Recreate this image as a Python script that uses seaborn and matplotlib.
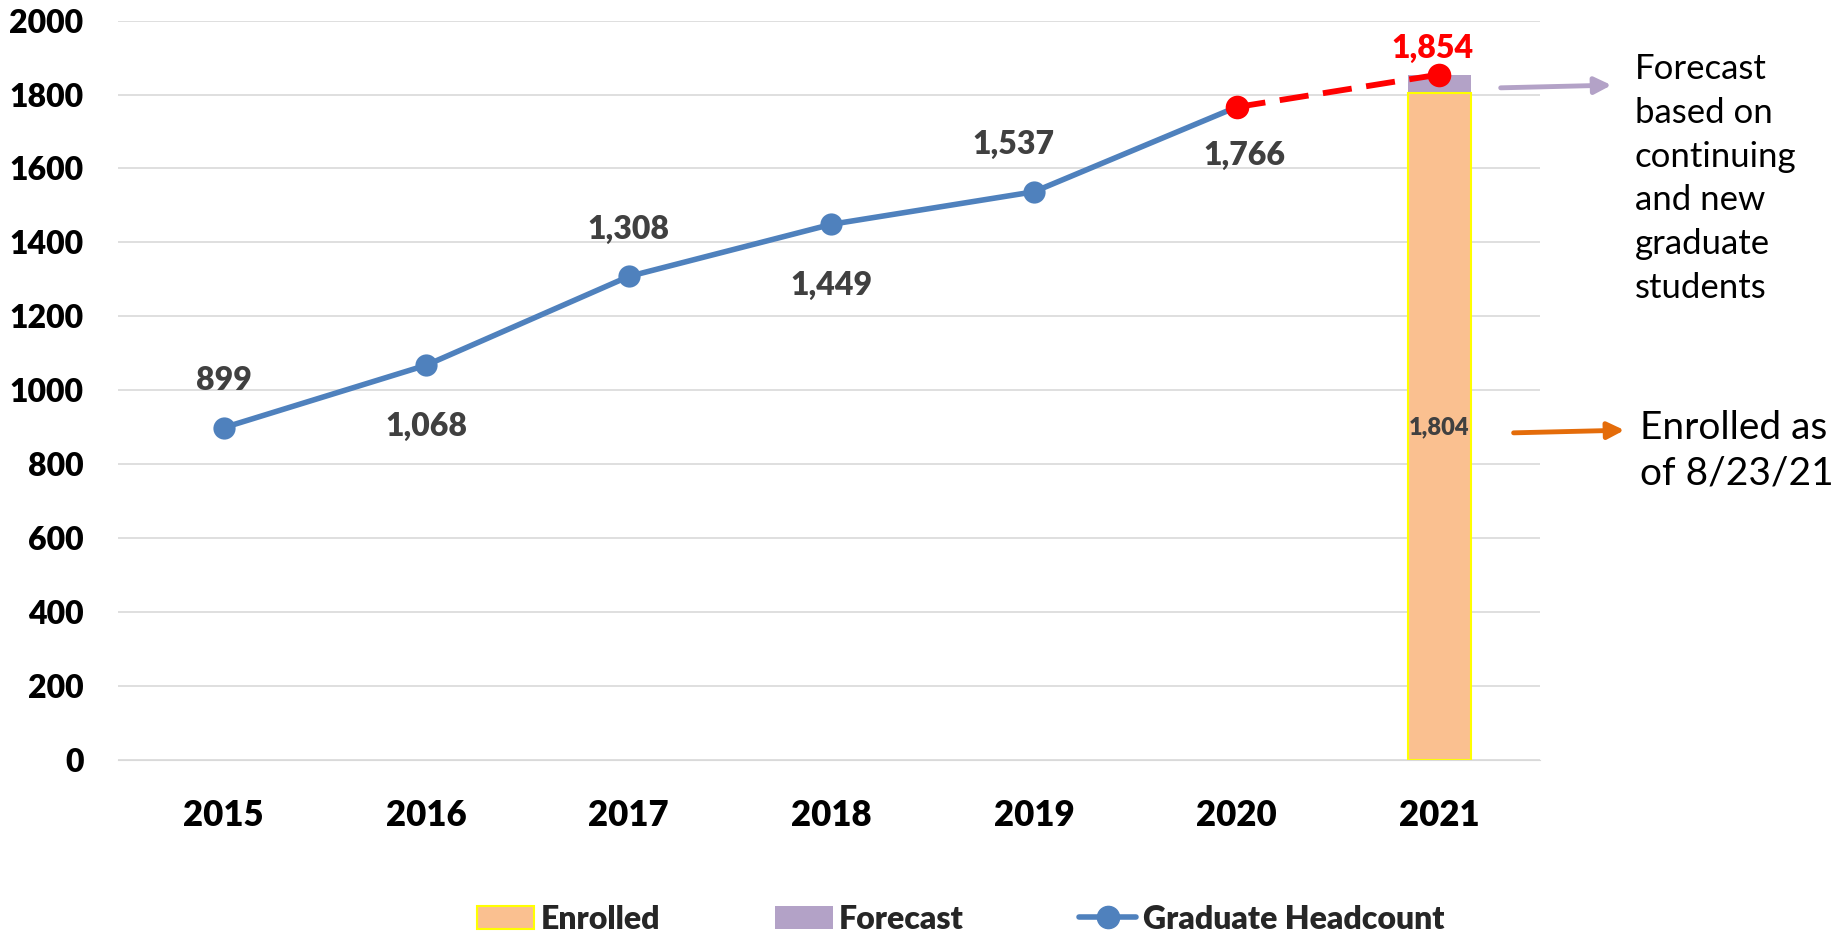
import matplotlib
matplotlib.use("Agg")
import matplotlib.pyplot as plt
import seaborn as sns
from matplotlib.patches import Patch
from matplotlib.lines import Line2D

# data
years = ["2015", "2016", "2017", "2018", "2019", "2020", "2021"]
headcount = [899, 1068, 1308, 1449, 1537, 1766]
enrolled_2021 = 1804
forecast_2021 = 1854
label_above = [True, False, True, False, True, False]

sns.set_style("whitegrid")
plt.rcParams['font.family'] = ['Lato', 'DejaVu Sans']

blue = "#4F81BD"
orange = "#FAC090"
purple = "#B3A2C7"
red = "#FF0000"
grey_txt = "#404040"
heavy = "heavy"

fig = plt.figure(figsize=(18.47, 9.35), dpi=100)
ax = fig.add_axes([0.064, 0.187, 0.77, 0.791])

# stacked bar for 2021: total (forecast) first, enrolled drawn over it
sns.barplot(x=["2021"], y=[forecast_2021], order=years, color=purple,
            width=0.31, saturation=1, linewidth=0, ax=ax)
sns.barplot(x=["2021"], y=[enrolled_2021], order=years, color=orange,
            width=0.31, saturation=1, edgecolor="#FFFF00", linewidth=1.5, ax=ax)

pos = list(range(len(headcount)))
sns.lineplot(x=pos, y=headcount, color=blue, linewidth=4, marker="o",
             markersize=16, markeredgewidth=0, ax=ax)

# forecast segment
sns.lineplot(x=[5, 6], y=[headcount[-1], forecast_2021], color=red,
             linewidth=4.2, dashes=False, ax=ax)
ax.lines[-1].set_dashes([5, 2.5])
ax.plot([5, 6], [headcount[-1], forecast_2021], "o", color=red, markersize=17,
        markeredgewidth=0, zorder=5)

for i, v in enumerate(headcount):
    off = 34 if label_above[i] else -44
    dx = 0
    if i == 5:
        dx = 6
        off = -35
    if i == 4:
        dx = -15
    ax.annotate(f"{v:,}", (i, v), xytext=(dx, off), textcoords="offset points",
                ha="center", va="center", fontsize=23, fontweight=heavy,
                color=grey_txt)
ax.annotate(f"{forecast_2021:,}", (6, forecast_2021), xytext=(-5, 19),
            textcoords="offset points", ha="center", va="center",
            fontsize=23, fontweight=heavy, color=red)
ax.text(6, 900, f"{enrolled_2021:,}", ha="center", va="center", fontsize=17,
        fontweight=heavy, color=grey_txt)

ax.set_ylim(0, 2000)
ax.set_yticks(range(0, 2001, 200))
ax.set_xlim(-0.52, 6.5)
ax.set_xlabel("")
ax.set_ylabel("")
ax.grid(axis="x", visible=False)
ax.grid(axis="y", color="#D9D9D9", linewidth=1.2)
for s in ["left", "right", "top"]:
    ax.spines[s].set_visible(False)
ax.spines["bottom"].set_color("#D9D9D9")
ax.tick_params(axis="x", length=0, labelsize=25, pad=28)
ax.tick_params(axis="y", length=0, labelsize=23, pad=25)
for t in ax.get_xticklabels() + ax.get_yticklabels():
    t.set_fontweight(heavy)
    t.set_color("black")

# side notes with arrows
ax.annotate("", xy=(0.874, 0.909), xytext=(0.811, 0.906),
            xycoords="figure fraction", textcoords="figure fraction",
            arrowprops=dict(arrowstyle="-|>", color=purple, lw=3.5,
                            mutation_scale=25), annotation_clip=False)
fig.text(0.885, 0.943, "Forecast\nbased on\ncontinuing\nand new\ngraduate\nstudents",
         ha="left", va="top", fontsize=25, linespacing=1.45, color="black")
ax.annotate("", xy=(0.881, 0.54), xytext=(0.818, 0.537),
            xycoords="figure fraction", textcoords="figure fraction",
            arrowprops=dict(arrowstyle="-|>", color="#E46C0A", lw=3.5,
                            mutation_scale=25), annotation_clip=False)
fig.text(0.888, 0.518, "Enrolled as\nof 8/23/21", ha="left", va="center",
         fontsize=28, linespacing=1.35, color="black")

handles = [
    Patch(facecolor=orange, edgecolor="#FFFF00", linewidth=1.5, label="Enrolled"),
    Patch(facecolor=purple, edgecolor="none", label="Forecast"),
    Line2D([0], [0], color=blue, linewidth=4, marker="o", markersize=16,
           markevery=[0], label="Graduate Headcount"),
]
leg = fig.legend(handles=handles, loc="center", bbox_to_anchor=(0.52, 0.017),
                 ncol=3, frameon=False, columnspacing=3.6, handlelength=1.8,
                 handletextpad=0.2, prop={"size": 23, "weight": heavy})

fig.savefig("out.png", dpi=100)
